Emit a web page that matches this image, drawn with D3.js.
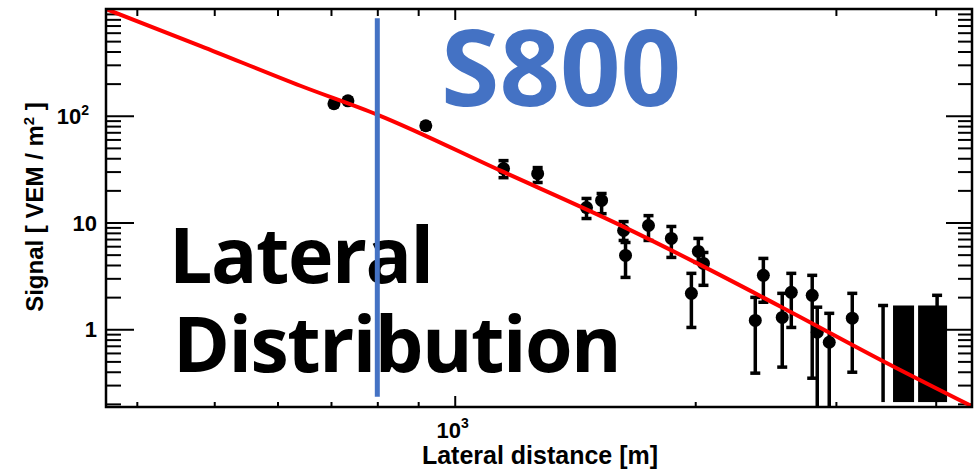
<!DOCTYPE html>
<html>
<head>
<meta charset="utf-8">
<script src="https://cdn.jsdelivr.net/npm/d3@7"></script>
<style>
  body { margin: 0; background: #fff; }
  svg { display: block; }
</style>
</head>
<body>
<div id="chart"></div>
<script>
// station signals
const distances = [706, 735, 920, 1151, 1270, 1462, 1527, 1627, 1636, 1748, 1867, 1978, 2018, 2048, 2378, 2434, 2570, 2638, 2802, 2843, 2943, 3145];
const signals   = [129.5, 138, 80.6, 32.0, 28.7, 13.8, 16.1, 8.42, 4.92, 9.37, 7.09, 2.17, 5.36, 4.14, 1.21, 3.20, 1.29, 2.22, 2.08, 0.938, 0.756, 1.27];
const errLow    = [122, 131, 75, 26.3, 23.7, 10.9, 12.1, 6.79, 3.06, 6.79, 4.71, 1.04, 4.23, 2.58, 0.388, 1.79, 0.442, 1.04, 0.348, 0.1, 0.1, 0.396];
const errHigh   = [137, 146, 86, 38.0, 32.7, 16.8, 18.7, 10.2, 6.50, 11.6, 9.18, 3.34, 7.09, 5.24, 1.99, 4.61, 2.17, 3.34, 3.20, 1.61, 1.41, 2.17];

// silent stations (upper limits)
const limitDist = [3437, 4016];
const limitHigh = [1.67, 2.08];
const limitLow = 0.208;
const bandStart = [3537, 3802];
const bandEnd   = [3758, 4133];
const bandHigh  = 1.67;

// fitted LDF
const fitDist   = [366, 481, 642, 801, 1141, 1613, 2012, 2608, 3477, 4441];
const fitSignal = [1000, 450, 190, 102, 30.6, 9.4, 4.14, 1.51, 0.481, 0.19];

// S800 marker
const s800 = { r: 800, top: 820, bottom: 0.233 };

const xMajor = [1000];
const xMinor = [400, 500, 600, 700, 800, 900, 2000, 3000, 4000];
const yMajor = [1, 10, 100];
const yLabels = [["1", ""], ["10", ""], ["10", "2"]];

const width = 975, height = 472;
const margin = { top: 9, right: 3, bottom: 65, left: 106 };

const x = d3.scaleLog().domain([366, 4441]).range([margin.left, width - margin.right]);
const y = d3.scaleLog().domain([0.187, 1000]).range([height - margin.bottom, margin.top]);

const yMinor = [];
[0.1, 1, 10, 100].forEach(d => {
  for (let k = 2; k <= 9; k++) {
    const v = d * k;
    if (v >= 0.187 && v <= 1000) yMinor.push(v);
  }
});

const svg = d3.select('#chart').append('svg')
  .attr('width', width)
  .attr('height', height);

svg.append('clipPath').attr('id', 'plot')
  .append('rect')
  .attr('x', margin.left).attr('y', margin.top)
  .attr('width', width - margin.left - margin.right)
  .attr('height', height - margin.top - margin.bottom);

// ticks (all pointing inwards)
function ticks(axis, vals, size, tx, ty) {
  const g = svg.append('g')
    .attr('transform', `translate(${tx},${ty})`)
    .call(axis.tickValues(vals).tickSizeInner(-size).tickSizeOuter(0).tickFormat(''));
  g.select('.domain').remove();
  g.selectAll('line').attr('stroke', '#000').attr('stroke-width', 2);
}
ticks(d3.axisLeft(y), yMajor, 28, margin.left, 0);
ticks(d3.axisLeft(y), yMinor, 15, margin.left, 0);
ticks(d3.axisRight(y), yMajor, 26, width - margin.right, 0);
ticks(d3.axisRight(y), yMinor, 14, width - margin.right, 0);
ticks(d3.axisBottom(x), xMajor, 11, 0, height - margin.bottom);
ticks(d3.axisBottom(x), xMinor, 5, 0, height - margin.bottom);
ticks(d3.axisTop(x), xMajor, 11, 0, margin.top);
ticks(d3.axisTop(x), xMinor, 7, 0, margin.top);

// tick labels
const axisFont = '"Liberation Sans", Arial, Helvetica, sans-serif';
yMajor.forEach((v, i) => {
  const t = svg.append('text')
    .attr('x', yLabels[i][1] ? 89 : 97)
    .attr('y', y(v) + 8)
    .attr('text-anchor', 'end')
    .style('font-family', axisFont)
    .style('font-weight', 'bold')
    .style('font-size', '22px')
    .text(yLabels[i][0]);
  if (yLabels[i][1]) {
    t.append('tspan').attr('dy', -9).style('font-size', '14px').text(yLabels[i][1]);
  }
});
const xl = svg.append('text')
  .attr('x', x(1000) - 2)
  .attr('y', 438)
  .attr('text-anchor', 'middle')
  .style('font-family', axisFont)
  .style('font-weight', 'bold')
  .style('font-size', '22px')
  .text('10');
xl.append('tspan').attr('dy', -10).style('font-size', '14px').text('3');

svg.append('text')
  .attr('x', 540)
  .attr('y', 464)
  .attr('text-anchor', 'middle')
  .style('font-family', axisFont)
  .style('font-weight', 'bold')
  .style('font-size', '25px')
  .text('Lateral distance [m]');

const yt = svg.append('text')
  .attr('transform', 'translate(43,207) rotate(-90)')
  .attr('text-anchor', 'middle')
  .style('font-family', axisFont)
  .style('font-weight', 'bold')
  .style('font-size', '24px')
  .text('Signal [ VEM / m');
yt.append('tspan').attr('dy', -9).style('font-size', '15px').text('2');
yt.append('tspan').attr('dy', 9).text(' ]');

// annotation text (under the blue line)
const annFont = '"Open Sans", "Noto Sans", sans-serif';
svg.append('text')
  .attr('x', 169).attr('y', 283)
  .style('font-family', annFont).style('font-weight', 700).style('font-size', '77px')
  .style('letter-spacing', '-1.5px')
  .attr('fill', '#000')
  .text('Lateral');
svg.append('text')
  .attr('x', 173).attr('y', 372)
  .style('font-family', annFont).style('font-weight', 700).style('font-size', '77px')
  .style('letter-spacing', '-1.5px')
  .attr('fill', '#000')
  .text('Distribution');
svg.append('text')
  .attr('x', 441).attr('y', 106)
  .style('font-family', annFont).style('font-weight', 700).style('font-size', '106px')
  .style('letter-spacing', '0px')
  .attr('fill', '#4472c4')
  .text('S800');

const plot = svg.append('g').attr('clip-path', 'url(#plot)');

// silent bands
plot.selectAll('rect.band')
  .data(bandStart)
  .enter().append('rect')
  .attr('class', 'band')
  .attr('x', (d) => x(d))
  .attr('y', y(bandHigh))
  .attr('width', (d, i) => x(bandEnd[i]) - x(d))
  .attr('height', y(limitLow) - y(bandHigh))
  .attr('fill', '#000');

// upper limits
limitDist.forEach((d, i) => {
  plot.append('line')
    .attr('x1', x(d)).attr('x2', x(d))
    .attr('y1', y(limitLow)).attr('y2', y(limitHigh[i]))
    .attr('stroke', '#000').attr('stroke-width', 3.5);
  plot.append('line')
    .attr('x1', x(d) - 5).attr('x2', x(d) + 5)
    .attr('y1', y(limitHigh[i])).attr('y2', y(limitHigh[i]))
    .attr('stroke', '#000').attr('stroke-width', 3.5);
});

// error bars
const eb = plot.append('g').attr('stroke', '#000').attr('stroke-width', 3.5);
distances.forEach((d, i) => {
  const cx = x(d);
  eb.append('line').attr('x1', cx).attr('x2', cx).attr('y1', y(errLow[i])).attr('y2', y(errHigh[i]));
  eb.append('line').attr('x1', cx - 5).attr('x2', cx + 5).attr('y1', y(errLow[i])).attr('y2', y(errLow[i]));
  eb.append('line').attr('x1', cx - 5).attr('x2', cx + 5).attr('y1', y(errHigh[i])).attr('y2', y(errHigh[i]));
});

// markers
plot.selectAll('circle')
  .data(distances)
  .enter().append('circle')
  .attr('cx', (d) => x(d))
  .attr('cy', (d, i) => y(signals[i]))
  .attr('r', 6.5)
  .attr('fill', '#000');

// fit line
const line = d3.line()
  .x((d) => x(d))
  .y((d, i) => y(fitSignal[i]))
  .curve(d3.curveMonotoneX);
plot.append('path')
  .attr('d', line(fitDist))
  .attr('fill', 'none')
  .attr('stroke', '#f00')
  .attr('stroke-width', 4);

// S800 line
svg.append('line')
  .attr('x1', x(s800.r)).attr('x2', x(s800.r))
  .attr('y1', y(s800.top)).attr('y2', y(s800.bottom))
  .attr('stroke', '#4472c4')
  .attr('stroke-width', 5);

// frame
svg.append('rect')
  .attr('x', margin.left).attr('y', margin.top)
  .attr('width', width - margin.left - margin.right)
  .attr('height', height - margin.top - margin.bottom)
  .attr('fill', 'none')
  .attr('stroke', '#000')
  .attr('stroke-width', 2.5);
</script>
</body>
</html>
